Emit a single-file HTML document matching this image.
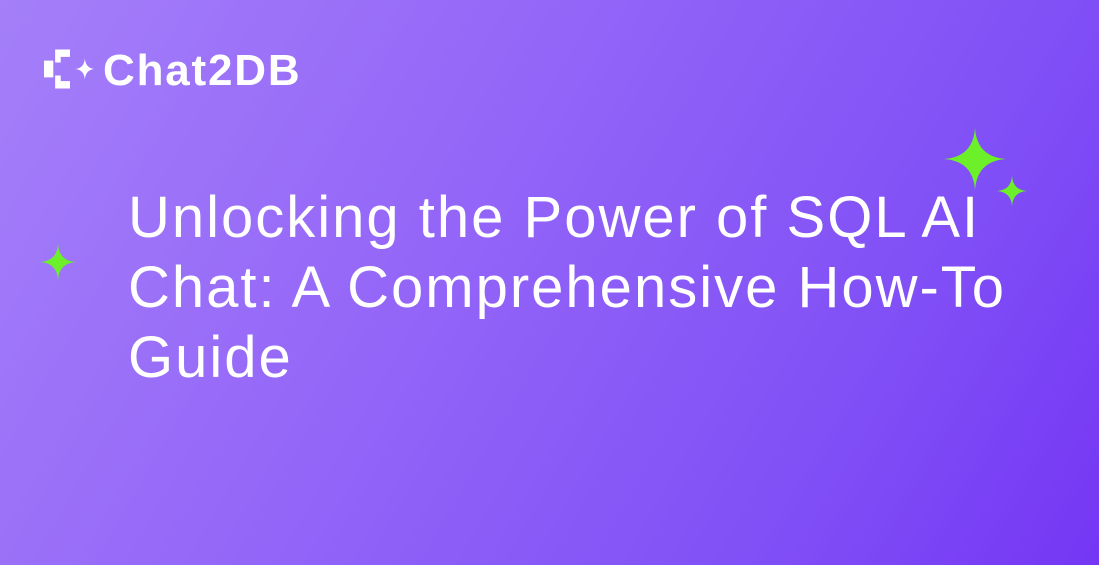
<!DOCTYPE html>
<html><head><meta charset="utf-8"><style>
html,body{margin:0;padding:0}
body{width:1099px;height:565px;overflow:hidden;position:relative;background:linear-gradient(120deg,#a47ff9 0%,#9466f8 40%,#8150f6 75%,#7436f4 100%);font-family:"Liberation Sans",sans-serif}
.logo{position:absolute;left:44px;top:46px}
.brand{position:absolute;left:103px;top:46px;font-size:44px;font-weight:bold;color:#fff;letter-spacing:1.8px}
.title{position:absolute;left:128px;top:183px;font-size:58px;line-height:70px;color:#fff;white-space:nowrap;letter-spacing:2px}
svg.s{position:absolute}
</style></head><body>
<svg class="s logo" width="52" height="46" viewBox="0 0 56 42">
<path d="M12 0h16v8h-10v6h-6z M0 12h10v18h-10z M12 28h6v6h10v8h-16z" fill="#fff"/>
<path d="M44 10 Q45 20 54 21 Q45 22 44 32 Q43 22 34 21 Q43 20 44 10z" fill="#fff"/>
</svg>
<div class="brand">Chat2DB</div>
<div class="title">Unlocking the Power of SQL AI<br>Chat: A Comprehensive How-To<br>Guide</div>
<svg class="s" style="left:944px;top:128px" width="62" height="62" viewBox="0 0 62 62"><path d="M31 0 Q33 29 62 31 Q33 33 31 62 Q29 33 0 31 Q29 29 31 0z" fill="#6cf02a"/></svg>
<svg class="s" style="left:997px;top:176px" width="30" height="30" viewBox="0 0 30 30"><path d="M15 0 Q16 14 30 15 Q16 16 15 30 Q14 16 0 15 Q14 14 15 0z" fill="#6cf02a"/></svg>
<svg class="s" style="left:40px;top:244px" width="36" height="36" viewBox="0 0 36 36"><path d="M18 0 Q19 17 36 18 Q19 19 18 36 Q17 19 0 18 Q17 17 18 0z" fill="#6cf02a"/></svg>
</body></html>
